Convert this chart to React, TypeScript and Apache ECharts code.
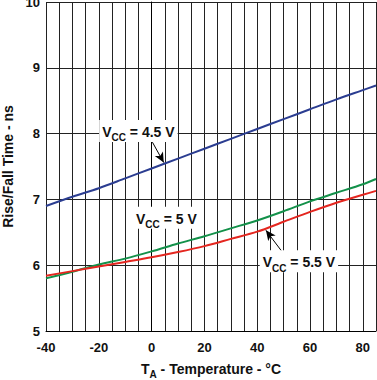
import React, { useEffect, useRef } from "react";
import * as echarts from "echarts";

const temps = [-40, -30, -20, -10, 0, 10, 20, 30, 40, 50, 60, 70, 80, 85];
const vcc45 = [6.9, 7.04, 7.17, 7.32, 7.47, 7.62, 7.77, 7.92, 8.07, 8.22, 8.37, 8.52, 8.66, 8.73];
const vcc5 = [5.8, 5.9, 6.01, 6.1, 6.21, 6.33, 6.44, 6.56, 6.68, 6.82, 6.97, 7.1, 7.23, 7.31];
const vcc55 = [5.84, 5.91, 5.98, 6.05, 6.12, 6.2, 6.29, 6.4, 6.51, 6.66, 6.81, 6.95, 7.07, 7.13];

const xTickLabels = [-40, -20, 0, 20, 40, 60, 80];

// annotation anchors (data coordinates)
const labels = [
  { text: "4.5 V", at: [-5.0, 8.04] },
  { text: "5 V", at: [5.6, 6.72] },
  { text: "5.5 V", at: [55.8, 6.06] },
];
const arrow45 = [[0.3, 7.87], [4.6, 7.56]];
const arrow55 = [[49.7, 6.19], [43.3, 6.53]];

const FONT = "'Liberation Sans', Arial, Helvetica, sans-serif";

export default function App() {
  const ref = useRef<HTMLDivElement>(null);
  useEffect(() => {
    document.body.style.margin = "0";
    const chart = echarts.init(ref.current!, null, { renderer: "svg" });
    const mk = (a: number[][]) => ({
      silent: true,
      symbolSize: [7, 10],
      lineStyle: { color: "#000", width: 1, type: "solid" },
      label: { show: false },
      data: [[{ coord: a[0], symbol: "none" }, { coord: a[1], symbol: "arrow" }]],
    });
    chart.setOption({
      animation: false,
      grid: { left: 46, right: 1, top: 2, bottom: 49, outerBoundsMode: "none", containLabel: false },
      xAxis: {
        type: "value",
        min: -40,
        max: 85,
        interval: 5,
        axisLine: { show: true, onZero: false, lineStyle: { color: "#000", width: 1 } },
        axisTick: { show: false },
        splitLine: { show: true, lineStyle: { color: "#222", width: 1 } },
        axisLabel: {
          margin: 10,
          color: "#111",
          fontFamily: FONT,
          fontWeight: "bold",
          fontSize: 13,
          showMaxLabel: false,
          formatter: (v: number) => (xTickLabels.indexOf(v) >= 0 ? String(v) : ""),
        },
        name: "{t|T}{s|A}{t| - Temperature - °C}",
        nameLocation: "middle",
        nameGap: 29,
        nameTextStyle: {
          rich: {
            t: { fontFamily: FONT, fontWeight: "bold", fontSize: 14, color: "#111", lineHeight: 16, verticalAlign: "bottom" },
            s: { fontFamily: FONT, fontWeight: "bold", fontSize: 10, color: "#111", lineHeight: 10, padding: [0, 0, -3, 0], verticalAlign: "bottom" },
          },
        },
      },
      yAxis: {
        type: "value",
        min: 5,
        max: 10,
        interval: 1,
        axisLine: { show: true, lineStyle: { color: "#000", width: 1 } },
        axisTick: { show: false },
        splitLine: { show: true, lineStyle: { color: "#222", width: 1 } },
        axisLabel: { margin: 6, color: "#111", fontFamily: FONT, fontWeight: "bold", fontSize: 13 },
        name: "Rise/Fall Time - ns",
        nameLocation: "middle",
        nameGap: 31,
        nameTextStyle: { fontFamily: FONT, fontWeight: "bold", fontSize: 14, color: "#111" },
      },
      series: [
        {
          type: "line",
          data: temps.map((t, i) => [t, vcc45[i]]),
          smooth: 0.3,
          showSymbol: false,
          lineStyle: { color: "#2b3d91", width: 2 },
          markLine: mk(arrow45),
        },
        {
          type: "line",
          data: temps.map((t, i) => [t, vcc5[i]]),
          smooth: 0.3,
          showSymbol: false,
          lineStyle: { color: "#13914a", width: 2 },
        },
        {
          type: "line",
          data: temps.map((t, i) => [t, vcc55[i]]),
          smooth: 0.3,
          showSymbol: false,
          lineStyle: { color: "#e4261f", width: 2 },
          markLine: mk(arrow55),
        },
      ],
    });
    const graphics = labels.map((l) => {
      const p = chart.convertToPixel({ gridIndex: 0 }, l.at) as number[];
      return {
        type: "text",
        x: p[0],
        y: p[1],
        z: 100,
        style: {
          text: `{v|V}{s|CC}{v| = ${l.text}}`,
          align: "center",
          verticalAlign: "middle",
          backgroundColor: "#fff",
          padding: [3, 3, 3, 3],
          rich: {
            v: { fontFamily: FONT, fontWeight: "bold", fontSize: 14, fill: "#111", lineHeight: 16, verticalAlign: "bottom" },
            s: { fontFamily: FONT, fontWeight: "bold", fontSize: 10, fill: "#111", lineHeight: 10, padding: [0, 0, -4, 0], verticalAlign: "bottom" },
          },
        },
      };
    });
    chart.setOption({ graphic: graphics });
    return () => chart.dispose();
  }, []);
  return <div ref={ref} style={{ position: "absolute", left: 0, top: 0, width: 377, height: 380 }} />;
}
